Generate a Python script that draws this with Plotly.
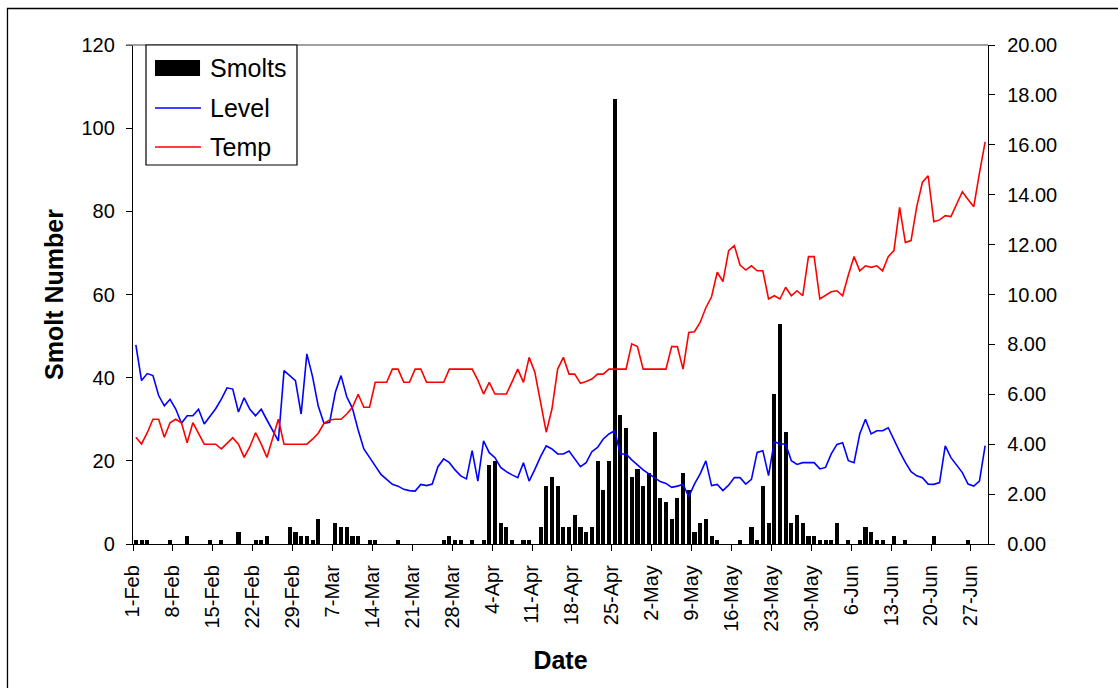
import pandas as pd
import plotly.graph_objects as go

# ---------------- data (one value per day, 1-Feb .. 29-Jun 2008) ----------------
start_date = "2008-02-01 12:00"
n_days = 150

smolts = [1, 1, 1, 0, 0, 0, 1, 0, 0, 2,
          0, 0, 0, 1, 0, 1, 0, 0, 3, 0,
          0, 1, 1, 2, 0, 0, 0, 4, 3, 2,
          2, 1, 6, 0, 0, 5, 4, 4, 2, 2,
          0, 1, 1, 0, 0, 0, 1, 0, 0, 0,
          0, 0, 0, 0, 1, 2, 1, 1, 0, 1,
          0, 1, 19, 20, 5, 4, 1, 0, 1, 1,
          0, 4, 14, 16, 14, 4, 4, 7, 4, 3,
          4, 20, 13, 20, 107, 31, 28, 16, 18, 14,
          17, 27, 11, 10, 6, 11, 17, 13, 3, 5,
          6, 2, 1, 0, 0, 0, 1, 0, 4, 1,
          14, 5, 36, 53, 27, 5, 7, 5, 2, 2,
          1, 1, 1, 5, 0, 1, 0, 1, 4, 3,
          1, 1, 0, 2, 0, 1, 0, 0, 0, 0,
          2, 0, 0, 0, 0, 0, 1, 0, 0, 0]

level = [7.98, 6.55, 6.83, 6.75, 5.95, 5.54, 5.80, 5.41, 4.84, 5.14,
         5.14, 5.40, 4.81, 5.13, 5.42, 5.81, 6.26, 6.21, 5.29, 5.86,
         5.40, 5.14, 5.40, 4.97, 4.57, 4.13, 6.95, 6.76, 6.55, 5.21,
         7.62, 6.71, 5.53, 4.84, 4.88, 6.08, 6.75, 5.90, 5.44, 4.57,
         3.81, 3.47, 3.14, 2.79, 2.59, 2.39, 2.32, 2.19, 2.14, 2.12,
         2.39, 2.34, 2.40, 3.10, 3.41, 3.26, 2.97, 2.73, 2.61, 3.74,
         2.52, 4.13, 3.66, 3.46, 3.07, 2.90, 2.77, 2.66, 3.26, 2.52,
         2.99, 3.50, 3.93, 3.81, 3.61, 3.61, 3.73, 3.43, 3.10, 3.26,
         3.70, 3.87, 4.21, 4.41, 4.54, 3.61, 3.61, 3.37, 3.17, 2.97,
         2.81, 2.67, 2.50, 2.43, 2.27, 2.32, 2.39, 1.90, 2.40, 2.81,
         3.33, 2.34, 2.39, 2.14, 2.36, 2.66, 2.66, 2.40, 2.59, 3.67,
         3.74, 2.74, 4.10, 4.01, 4.01, 3.34, 3.19, 3.26, 3.26, 3.26,
         3.01, 3.07, 3.61, 3.99, 4.06, 3.34, 3.26, 4.41, 5.00, 4.41,
         4.54, 4.54, 4.66, 4.17, 3.70, 3.27, 2.90, 2.73, 2.66, 2.40,
         2.39, 2.46, 3.93, 3.46, 3.14, 2.86, 2.40, 2.32, 2.52, 3.94]

temp = [4.28, 4.01, 4.46, 5.00, 5.00, 4.28, 4.86, 5.00, 4.86, 4.06,
        4.86, 4.41, 4.00, 4.00, 4.00, 3.81, 4.04, 4.26, 4.00, 3.47,
        3.90, 4.46, 4.00, 3.47, 4.24, 5.00, 4.00, 4.00, 4.00, 4.00,
        4.00, 4.20, 4.44, 4.84, 4.97, 5.00, 5.00, 5.21, 5.48, 6.00,
        5.48, 5.48, 6.48, 6.48, 6.48, 7.01, 7.01, 6.48, 6.48, 7.01,
        7.01, 6.48, 6.48, 6.48, 6.48, 7.01, 7.01, 7.01, 7.01, 7.01,
        6.57, 6.01, 6.48, 6.01, 6.01, 6.01, 6.50, 7.01, 6.48, 7.48,
        6.88, 5.64, 4.48, 5.41, 7.01, 7.48, 6.81, 6.81, 6.44, 6.51,
        6.61, 6.81, 6.81, 7.01, 7.01, 7.01, 7.01, 8.02, 7.91, 7.01,
        7.01, 7.01, 7.01, 7.01, 7.91, 7.91, 7.01, 8.48, 8.51, 8.88,
        9.47, 9.91, 10.89, 10.52, 11.76, 11.96, 11.18, 10.98, 11.15, 10.95,
        10.95, 9.82, 9.95, 9.82, 10.29, 9.95, 10.15, 9.95, 11.52, 11.52,
        9.82, 9.95, 10.11, 10.15, 9.95, 10.78, 11.52, 10.95, 11.15, 11.09,
        11.15, 10.95, 11.52, 11.76, 13.49, 12.09, 12.16, 13.52, 14.50, 14.76,
        12.92, 12.99, 13.16, 13.12, 13.63, 14.12, 13.81, 13.52, 14.86, 16.12]

tick_labels = ["1-Feb", "8-Feb", "15-Feb", "22-Feb", "29-Feb", "7-Mar", "14-Mar",
               "21-Mar", "28-Mar", "4-Apr", "11-Apr", "18-Apr", "25-Apr", "2-May",
               "9-May", "16-May", "23-May", "30-May", "6-Jun", "13-Jun", "20-Jun",
               "27-Jun"]

left_ticks = [0, 20, 40, 60, 80, 100, 120]
right_ticks = [0, 2, 4, 6, 8, 10, 12, 14, 16, 18, 20]

series_names = ["Smolts", "Level", "Temp"]

# ---------------- figure ----------------
dates = pd.date_range(start_date, periods=n_days, freq="D")
tick_dates = pd.date_range("2008-02-01", periods=len(tick_labels), freq="7D")

FONT = "Arial, Liberation Sans, sans-serif"
DAY_MS = 86400000

fig = go.Figure()
fig.add_trace(go.Bar(x=dates, y=smolts, name=series_names[0],
                     marker=dict(color="black", line=dict(width=0)),
                     width=0.72 * DAY_MS, yaxis="y", showlegend=False))
fig.add_trace(go.Scatter(x=dates, y=level, name=series_names[1], mode="lines",
                         line=dict(color="#0000FF", width=1.6), yaxis="y2",
                         showlegend=False))
fig.add_trace(go.Scatter(x=dates, y=temp, name=series_names[2], mode="lines",
                         line=dict(color="#FF0000", width=1.6), yaxis="y2",
                         showlegend=False))

axis_font = dict(family=FONT, size=20, color="black")
title_font = dict(family=FONT, size=25, color="black", weight="bold")

fig.update_layout(
    width=1118, height=688,
    margin=dict(l=133, r=130, t=45, b=144, autoexpand=False),
    paper_bgcolor="white", plot_bgcolor="white",
    bargap=0,
    xaxis=dict(type="date", range=["2008-02-01", "2008-06-30"],
               tickvals=tick_dates, ticktext=tick_labels, tickangle=-90,
               ticks="outside", ticklen=6, tickwidth=1, tickcolor="black",
               ticklabelstandoff=6,
               showline=True, linecolor="black", linewidth=1.3,
               showgrid=False, zeroline=False, tickfont=axis_font,
               title=dict(text="Date", font=title_font, standoff=20)),
    yaxis=dict(range=[0, 120], tickvals=left_ticks, ticks="outside",
               ticklen=6, tickwidth=1, tickcolor="black",
               ticklabelstandoff=7,
               showline=True, linecolor="black", linewidth=1.3,
               showgrid=False, zeroline=False, tickfont=axis_font,
               title=dict(text="Smolt Number", font=title_font, standoff=10)),
    yaxis2=dict(range=[0, 20], tickvals=right_ticks, tickformat=".2f",
                overlaying="y", side="right", anchor="x",
                ticks="outside", ticklen=6, tickwidth=1, tickcolor="black",
                ticklabelstandoff=8,
                showline=True, linecolor="black", linewidth=1.3,
                showgrid=False, zeroline=False, tickfont=axis_font),
)

# top border of plot area (grey) and outer frame
fig.add_shape(type="line", xref="paper", yref="paper", x0=-0.008, x1=1, y0=1, y1=1,
              line=dict(color="#808080", width=1.3), layer="above")
fig.add_shape(type="rect", xref="paper", yref="paper", x0=-0.1468, x1=1.2,
              y0=-0.4, y1=1.0731, line=dict(color="black", width=1.3),
              fillcolor="rgba(0,0,0,0)", layer="above")

# legend (drawn with shapes + text)
fig.add_shape(type="rect", xref="paper", yref="paper", x0=0.0152, x1=0.1918,
              y0=0.7595, y1=1.0, line=dict(color="black", width=1.2),
              fillcolor="white", layer="above")
fig.add_shape(type="rect", xref="paper", yref="paper", x0=0.0257, x1=0.0784,
              y0=0.9379, y1=0.9699, line=dict(width=0), fillcolor="black",
              layer="above")
fig.add_shape(type="line", xref="paper", yref="paper", x0=0.0257, x1=0.0795,
              y0=0.8737, y1=0.8737, line=dict(color="#0000FF", width=1.3),
              layer="above")
fig.add_shape(type="line", xref="paper", yref="paper", x0=0.0257, x1=0.0795,
              y0=0.7956, y1=0.7956, line=dict(color="#FF0000", width=1.3),
              layer="above")
for name, ypos in zip(series_names, [0.9539, 0.8737, 0.7956]):
    fig.add_annotation(xref="paper", yref="paper", x=0.0877, y=ypos, text=name,
                       showarrow=False, xanchor="left", yanchor="middle",
                       font=dict(family=FONT, size=25, color="black"))

fig.write_html("out.html")
